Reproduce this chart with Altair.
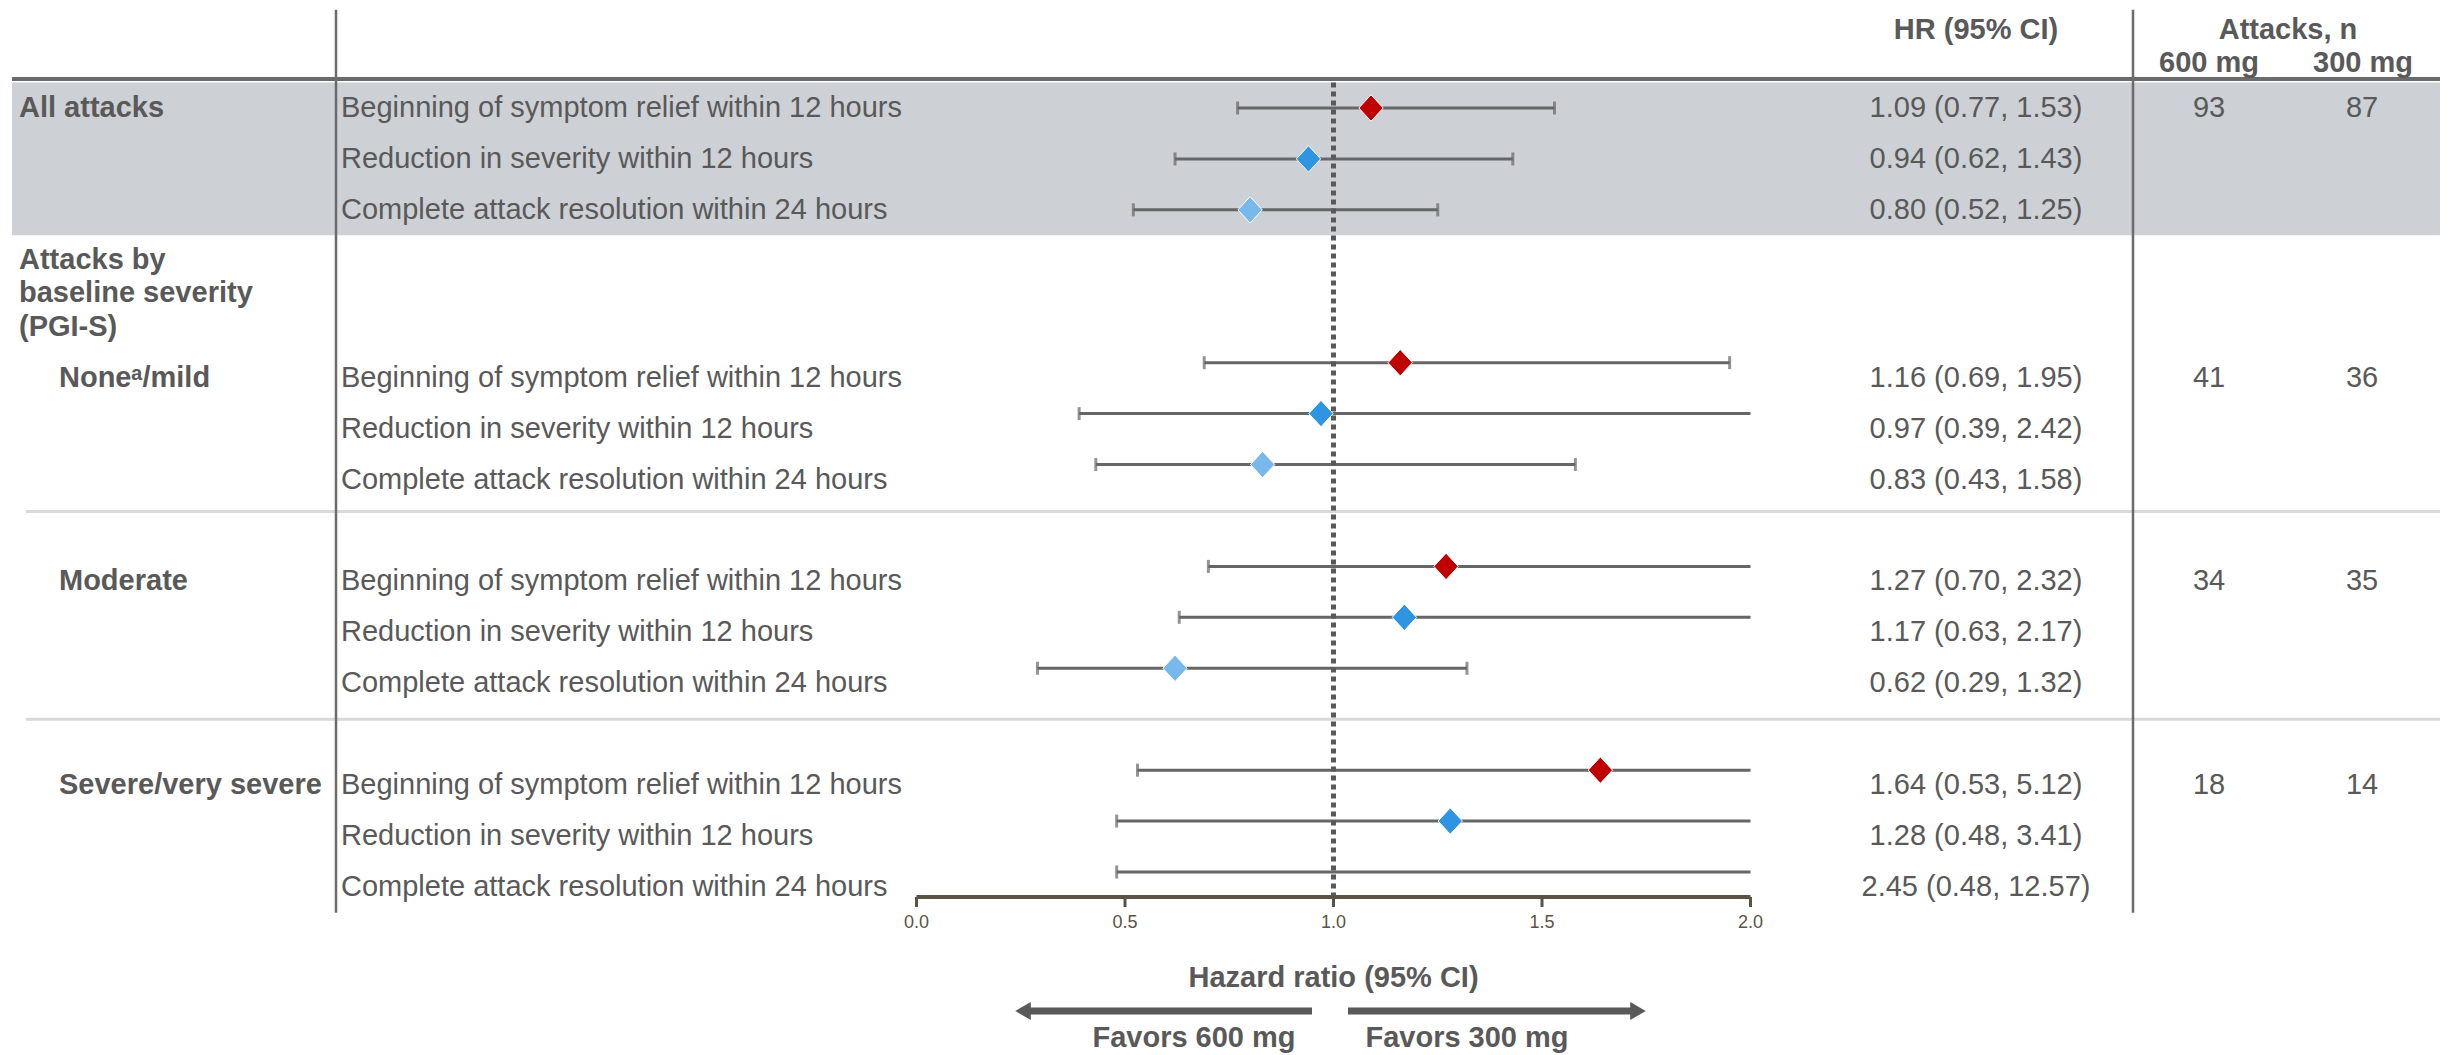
import altair as alt
import pandas as pd

# ---------------- data ----------------
section_names = ["All attacks", "None\u1d43/mild", "Moderate", "Severe/very severe"]
measure_names = [
    "Beginning of symptom relief within 12 hours",
    "Reduction in severity within 12 hours",
    "Complete attack resolution within 24 hours",
]
hr_est = [1.09, 0.94, 0.80, 1.16, 0.97, 0.83, 1.27, 1.17, 0.62, 1.64, 1.28, 2.45]
ci_low = [0.77, 0.62, 0.52, 0.69, 0.39, 0.43, 0.70, 0.63, 0.29, 0.53, 0.48, 0.48]
ci_high = [1.53, 1.43, 1.25, 1.95, 2.42, 1.58, 2.32, 2.17, 1.32, 5.12, 3.41, 12.57]
attacks_600 = [93, 41, 34, 18]
attacks_300 = [87, 36, 35, 14]
subgroup_heading = ["Attacks by", "baseline severity", "(PGI-S)"]
axis_ticks = [0.0, 0.5, 1.0, 1.5, 2.0]
axis_title = "Hazard ratio (95% CI)"
measure_colors = ["#C00000", "#2F95E3", "#78B8EB"]

# ---------------- layout / style ----------------
W, H = 2434, 889                         # view size
AX0_PX, AX_PX_PER_UNIT = 908.5, 417.0    # where HR 0 sits, and pixels per HR unit
AX_MIN, AX_MAX = 0.0, 2.0
SECTION_START = [0, 5, 9, 13]            # row slot of the first row of every section
SEPARATOR_SLOTS = [7.92, 12.0]
FONT = "Liberation Sans, Arial, Helvetica, sans-serif"
TXT = "#595959"
BAR = "#666666"
LINE = "#6B6B6B"
BAND = "#CDD0D4"
AXIS = "#5A5346"
FS = 29

rows = []
for s in range(len(section_names)):
    for m in range(len(measure_names)):
        i = s * 3 + m
        rows.append(dict(
            section=s, measure=measure_names[m], hr=hr_est[i], lo=ci_low[i], hi=ci_high[i],
            slot=SECTION_START[s] + m,
            hr_text=f"{hr_est[i]:.2f} ({ci_low[i]:.2f}, {ci_high[i]:.2f})",
        ))
df = pd.DataFrame(rows)
sec = pd.DataFrame(dict(section=list(range(4)), name=section_names,
                        n600=attacks_600, n300=attacks_300, slot=SECTION_START))
seps = pd.DataFrame(dict(slot=SEPARATOR_SLOTS))
ticks_df = pd.DataFrame(dict(t=axis_ticks))
one = pd.DataFrame(dict(k=[0]))

x_lo = -AX0_PX / AX_PX_PER_UNIT
x_hi = x_lo + W / AX_PX_PER_UNIT
YS = alt.Scale(domain=[0, 15], range=[100, 864], nice=False, zero=False)
XS = alt.Scale(domain=[x_lo, x_hi], nice=False, zero=False)


def xf(field):
    return alt.X(f"{field}:Q", scale=XS, axis=None)


def yf(field="slot"):
    return alt.Y(f"{field}:Q", scale=YS, axis=None)


def yd(v):
    return alt.YDatum(v, scale=YS, axis=None)


# ---------------- hazard-ratio axis (built on the x scale) ----------------
axis_base = alt.Chart(one).mark_rule(color=AXIS, strokeWidth=4).encode(
    x=alt.XDatum(AX_MIN, scale=XS, axis=None), x2=alt.X2Datum(AX_MAX), y=alt.value(H))
axis_tick_marks = alt.Chart(ticks_df).mark_rule(color=AXIS, strokeWidth=3).encode(
    x=xf("t"), y=alt.value(H), y2=alt.value(H + 10))
axis_labels = alt.Chart(ticks_df).transform_calculate(
    lab="format(datum.t, '.1f')").mark_text(
    font=FONT, fontSize=18, color=AXIS, baseline="middle", align="center").encode(
    x=xf("t"), y=alt.value(H + 26), text="lab:N")
axis_title_mark = alt.Chart(one).mark_text(
    font=FONT, fontSize=FS, fontWeight="bold", color=TXT, baseline="middle",
    align="center", text=axis_title).encode(
    x=alt.XDatum((AX_MIN + AX_MAX) / 2, scale=XS, axis=None), y=alt.value(H + 81))

# ---------------- table structure ----------------
band = alt.Chart(one).mark_rect(color=BAND).encode(
    x=alt.value(4), x2=alt.value(2432), y=yd(-0.5), y2=alt.Y2Datum(2.5))
sep_rules = alt.Chart(seps).mark_rule(color="#D9D9D9", strokeWidth=3).encode(
    x=alt.value(18), x2=alt.value(2432), y=yf())
header_rule = alt.Chart(one).mark_rule(color=LINE, strokeWidth=4).encode(
    x=alt.value(4), x2=alt.value(2432), y=yd(-0.57))
div_left = alt.Chart(one).mark_rule(color=LINE, strokeWidth=2.5).encode(
    x=alt.value(328), y=yd(-1.93), y2=alt.Y2Datum(15.8))
div_right = alt.Chart(one).mark_rule(color=LINE, strokeWidth=2.5).encode(
    x=alt.value(2125), y=yd(-1.93), y2=alt.Y2Datum(15.8))

# ---------------- forest plot (whiskers cut at the axis end) ----------------
whiskers = alt.Chart(df).transform_calculate(hi_c=f"min(datum.hi, {AX_MAX})").mark_rule(
    color=BAR, strokeWidth=3).encode(x=xf("lo"), x2="hi_c:Q", y=yf())
cap_lo = alt.Chart(df).mark_tick(color=BAR, orient="vertical", size=13, thickness=3).encode(
    x=xf("lo"), y=yf())
cap_hi = alt.Chart(df).transform_filter(f"datum.hi <= {AX_MAX}").mark_tick(
    color=BAR, orient="vertical", size=13, thickness=3).encode(x=xf("hi"), y=yf())
ref_line = alt.Chart(one).mark_rule(color=TXT, strokeWidth=5, strokeDash=[5, 4]).encode(
    x=alt.XDatum(1.0, scale=XS, axis=None), y=yd(-0.5), y2=alt.Y2Datum(15.5))
diamonds = alt.Chart(df).transform_filter(f"datum.hr <= {AX_MAX}").mark_point(
    shape="M0,-1L0.92,0L0,1L-0.92,0Z", filled=True, size=700, opacity=1,
    stroke="white", strokeWidth=1).encode(
    x=xf("hr"), y=yf(),
    color=alt.Color("measure:N", scale=alt.Scale(domain=measure_names, range=measure_colors),
                    legend=None))


# ---------------- texts ----------------
def txt(data, **kw):
    base = dict(font=FONT, fontSize=FS, color=TXT, baseline="middle")
    base.update(kw)
    return alt.Chart(data).mark_text(**base)

meas0 = txt(df, align="left").transform_filter("datum.section == 0").encode(
    x=alt.value(333), y=yf(), text="measure:N")
measL = txt(df, align="left", dy=15).transform_filter("datum.section != 0").encode(
    x=alt.value(333), y=yf(), text="measure:N")
hr0 = txt(df, align="center").transform_filter("datum.section == 0").encode(
    x=alt.value(1968), y=yf(), text="hr_text:N")
hrL = txt(df, align="center", dy=15).transform_filter("datum.section != 0").encode(
    x=alt.value(1968), y=yf(), text="hr_text:N")
n6_0 = txt(sec, align="center").transform_filter("datum.section == 0").encode(
    x=alt.value(2201), y=yf(), text="n600:N")
n6_L = txt(sec, align="center", dy=15).transform_filter("datum.section != 0").encode(
    x=alt.value(2201), y=yf(), text="n600:N")
n3_0 = txt(sec, align="center").transform_filter("datum.section == 0").encode(
    x=alt.value(2354), y=yf(), text="n300:N")
n3_L = txt(sec, align="center", dy=15).transform_filter("datum.section != 0").encode(
    x=alt.value(2354), y=yf(), text="n300:N")
grp0 = txt(sec, align="left", fontWeight="bold").transform_filter("datum.section == 0").encode(
    x=alt.value(11), y=yf(), text="name:N")
grpL = txt(sec, align="left", fontWeight="bold", dy=15).transform_filter("datum.section != 0").encode(
    x=alt.value(51), y=yf(), text="name:N")
subhead = txt(one, align="left", fontWeight="bold", baseline="top", lineHeight=33.5,
              text=subgroup_heading).encode(x=alt.value(11), y=yd(2.7))

hdr_hr = txt(one, align="center", fontWeight="bold", text="HR (95% CI)").encode(
    x=alt.value(1968), y=yd(-1.53))
hdr_att = txt(one, align="center", fontWeight="bold", text="Attacks, n").encode(
    x=alt.value(2280), y=yd(-1.53))
hdr_600 = txt(one, align="center", fontWeight="bold", text="600 mg").encode(
    x=alt.value(2201), y=yd(-0.88))
hdr_300 = txt(one, align="center", fontWeight="bold", text="300 mg").encode(
    x=alt.value(2355), y=yd(-0.88))

# ---------------- arrows below the axis ----------------
ARROW_Y = 1003
shaft_l = alt.Chart(one).mark_rule(color=TXT, strokeWidth=7).encode(
    x=alt.value(1014), x2=alt.value(1304), y=alt.value(ARROW_Y))
shaft_r = alt.Chart(one).mark_rule(color=TXT, strokeWidth=7).encode(
    x=alt.value(1340), x2=alt.value(1630), y=alt.value(ARROW_Y))
head_l = alt.Chart(one).mark_point(shape="triangle-left", filled=True, size=324,
                                   color=TXT, opacity=1).encode(
    x=alt.value(1015), y=alt.value(ARROW_Y))
head_r = alt.Chart(one).mark_point(shape="triangle-right", filled=True, size=324,
                                   color=TXT, opacity=1).encode(
    x=alt.value(1630), y=alt.value(ARROW_Y))
fav_l = txt(one, align="center", fontWeight="bold", text="Favors 600 mg").encode(
    x=alt.value(1186), y=alt.value(1030))
fav_r = txt(one, align="center", fontWeight="bold", text="Favors 300 mg").encode(
    x=alt.value(1459), y=alt.value(1030))

chart = alt.layer(
    band, sep_rules, header_rule, div_left, div_right,
    whiskers, cap_lo, cap_hi, ref_line,
    axis_base, axis_tick_marks, axis_labels, axis_title_mark,
    diamonds,
    meas0, measL, hr0, hrL, n6_0, n6_L, n3_0, n3_L, grp0, grpL, subhead,
    hdr_hr, hdr_att, hdr_600, hdr_300,
    shaft_l, shaft_r, head_l, head_r, fav_l, fav_r,
).properties(
    width=W, height=H, padding=0, background="white"
).configure_view(stroke=None)

chart.save("out.html", embed_options={"renderer": "svg", "actions": False})
